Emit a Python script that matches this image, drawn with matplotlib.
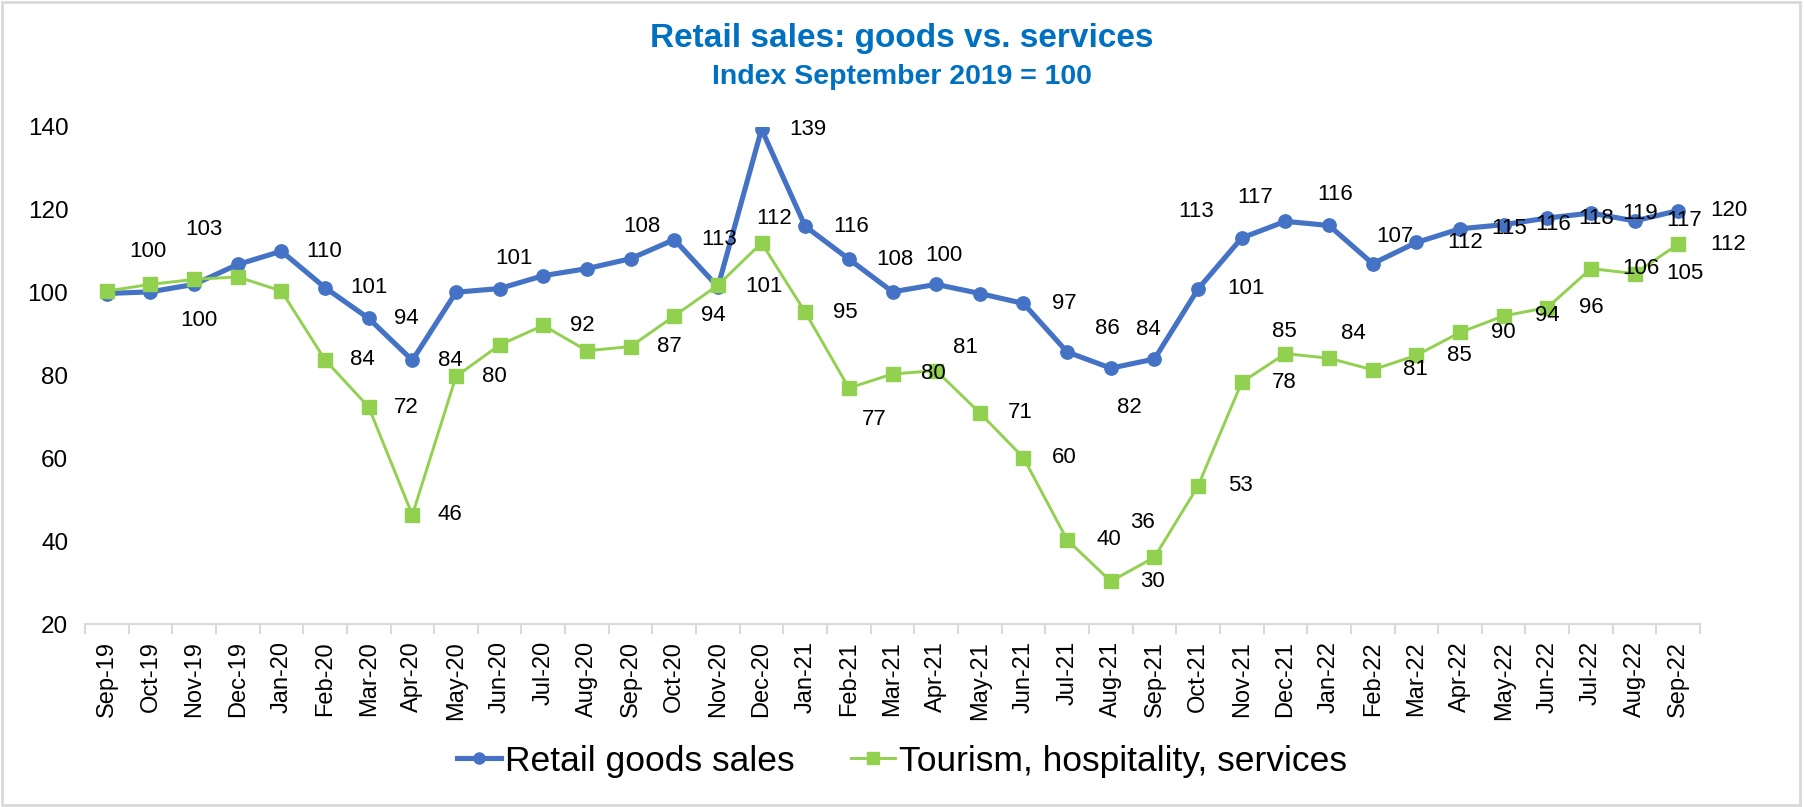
import numpy as np
import matplotlib
matplotlib.use("Agg")
import matplotlib.pyplot as plt
from matplotlib import font_manager
from matplotlib.lines import Line2D
from matplotlib.patches import Rectangle

# --- data ---
months = ['Sep-19', 'Oct-19', 'Nov-19', 'Dec-19', 'Jan-20', 'Feb-20', 'Mar-20', 'Apr-20',
          'May-20', 'Jun-20', 'Jul-20', 'Aug-20', 'Sep-20', 'Oct-20', 'Nov-20', 'Dec-20',
          'Jan-21', 'Feb-21', 'Mar-21', 'Apr-21', 'May-21', 'Jun-21', 'Jul-21', 'Aug-21',
          'Sep-21', 'Oct-21', 'Nov-21', 'Dec-21', 'Jan-22', 'Feb-22', 'Mar-22', 'Apr-22',
          'May-22', 'Jun-22', 'Jul-22', 'Aug-22', 'Sep-22']

retail_goods = [99.8, 100.2, 102.0, 106.8, 110.0, 101.2, 93.8, 83.7,
                100.1, 101.0, 104.1, 105.8, 108.2, 112.8, 101.4, 139.4,
                116.0, 108.1, 100.2, 102.0, 99.8, 97.4, 85.7, 81.8,
                84.0, 100.9, 113.2, 117.2, 116.2, 107.0, 112.1, 115.4,
                116.4, 118.0, 119.2, 117.3, 119.8]

services = [100.4, 102.0, 103.2, 103.8, 100.4, 83.8, 72.4, 46.4,
            79.8, 87.4, 92.1, 86.0, 87.0, 94.4, 101.8, 112.0,
            95.3, 77.0, 80.4, 81.2, 71.0, 60.2, 40.4, 30.4,
            36.2, 53.4, 78.4, 85.3, 84.2, 81.4, 84.9, 90.4,
            94.4, 96.4, 105.8, 104.6, 111.7]

# which points carry a data label
goods_labelled = [1, 4, 5, 6, 7, 9, 12, 13, 14, 15, 16, 17, 18, 21, 22, 23, 24,
                  25, 26, 27, 28, 29, 30, 31, 32, 33, 34, 35, 36]
services_labelled = [0, 2, 5, 6, 7, 8, 10, 12, 13, 15, 16, 17, 18, 19, 20, 21, 22,
                     23, 24, 25, 26, 27, 28, 29, 30, 31, 32, 33, 34, 35, 36]

# label placement in pixels (left edge of text, y up); others sit right of the point
goods_off = {1: (-21, 40), 9: (-4, 30), 12: (-7, 32), 18: (33, 36), 22: (28, 23),
             23: (6, -39), 24: (-18, 30), 26: (-63, 26), 27: (-48, 24),
             28: (-12, 31), 29: (4, 27)}
services_off = {0: (73, -29), 2: (-9, 50), 15: (-5, 24), 17: (13, -31), 19: (17, 23),
                24: (-24, 35), 27: (-13, 22), 28: (12, 25)}

BLUE = '#4472C4'
GREEN = '#92D050'
TITLE_BLUE = '#0070C0'
GRAY = '#D9D9D9'

plt.rcParams['font.family'] = ['Liberation Sans', 'DejaVu Sans']

fig = plt.figure(figsize=(18.04, 8.07), dpi=100)
ax = fig.add_axes([0.0471, 0.2262, 0.8953, 0.6167])

x = np.arange(len(months))
ax.plot(x, retail_goods, color=BLUE, lw=3.7, marker='o', markersize=9.6, zorder=3)
ax.plot(x, services, color=GREEN, lw=2.1, marker='s', markersize=9.6, zorder=4)


def add_labels(values, labelled, offsets):
    n = len(values) - 1
    for i in labelled:
        # the "right" labels drift a little further out towards the right end
        dx, dy = offsets.get(i, (24 + 8 * i / n, 0))
        ax.annotate(f'{values[i]:.0f}', (x[i], values[i]), xytext=(dx, dy),
                    textcoords='offset pixels', ha='left', va='center',
                    fontsize=16, color='black', zorder=5)


add_labels(retail_goods, goods_labelled, goods_off)
add_labels(services, services_labelled, services_off)

ax.set_xlim(-0.5, len(months) - 0.5)
ax.set_ylim(20, 140)
ax.set_yticks(range(20, 141, 20))
ax.set_xticks(x)
ax.set_xticklabels(months, rotation=90, fontsize=17)
ax.set_xticks(np.arange(-0.5, len(months), 1), minor=True)
ax.tick_params(axis='x', which='major', length=0, pad=12)
ax.tick_params(axis='x', which='minor', length=7, color=GRAY, width=1.5, direction='out')
ax.tick_params(axis='y', length=0, pad=12, labelsize=17.5)

for side in ['top', 'right', 'left']:
    ax.spines[side].set_visible(False)
ax.spines['bottom'].set_color(GRAY)
ax.spines['bottom'].set_linewidth(1.5)

fig.text(0.5, 1 - 38 / 807, 'Retail sales: goods vs. services', ha='center', va='center',
         fontsize=24, fontweight='bold', color=TITLE_BLUE)
fig.text(0.5, 1 - 77 / 807, 'Index September 2019 = 100', ha='center', va='center',
         fontsize=20.5, fontweight='bold', color=TITLE_BLUE)

# legend font: narrow face if available
try:
    font_manager.findfont('Liberation Sans Narrow', fallback_to_default=False)
    legend_font = {'family': 'Liberation Sans Narrow', 'size': 30}
except ValueError:
    legend_font = {'family': 'Liberation Sans', 'size': 25.5}

handles = [Line2D([], [], color=BLUE, lw=3.7, marker='o', markersize=8),
           Line2D([], [], color=GREEN, lw=2.1, marker='s', markersize=8)]
fig.legend(handles, ['Retail goods sales', 'Tourism, hospitality, services'],
           loc='center', bbox_to_anchor=(0.5, 1 - 761 / 807), ncol=2, frameon=False,
           prop=legend_font, handlelength=1.25, handletextpad=0.1, columnspacing=1.6,
           numpoints=1)

# light frame round the whole chart
fig.add_artist(Rectangle((0.001, 0.002), 0.997, 0.996, transform=fig.transFigure,
                         fill=False, ec=GRAY, lw=2))

fig.savefig('out.png', dpi=100)
